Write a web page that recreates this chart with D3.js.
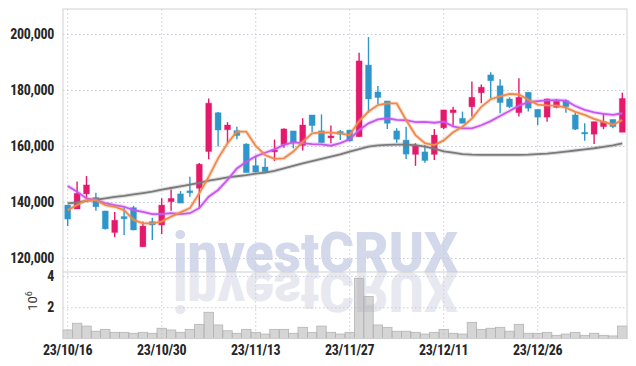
<!DOCTYPE html>
<html>
<head>
<meta charset="utf-8">
<script src="https://cdn.jsdelivr.net/npm/d3@7"></script>
<style>
    body { margin: 0; background: #fff; }
    .tick text { font-family: "Liberation Sans Narrow", "Roboto Condensed", Roboto, sans-serif; font-weight: bold; fill: #262626; letter-spacing: -0.3px; }
    .grid line { stroke: #c6cbe0; stroke-dasharray: 1.5,2.5; }
    .grid path { display: none; }
    .wm { font-family: Roboto, Inter, sans-serif; font-weight: 900; font-size: 55px; }
</style>
</head>
<body>
<div id="chart"></div>
<script>
var dates = ["23/10/16","23/10/17","23/10/18","23/10/19","23/10/20","23/10/23","23/10/24","23/10/25","23/10/26","23/10/27",
    "23/10/30","23/10/31","23/11/01","23/11/02","23/11/03","23/11/06","23/11/07","23/11/08","23/11/09","23/11/10",
    "23/11/13","23/11/14","23/11/15","23/11/16","23/11/17","23/11/20","23/11/21","23/11/22","23/11/23","23/11/24",
    "23/11/27","23/11/28","23/11/29","23/11/30","23/12/01","23/12/04","23/12/05","23/12/06","23/12/07","23/12/08",
    "23/12/11","23/12/12","23/12/13","23/12/14","23/12/15","23/12/18","23/12/19","23/12/20","23/12/21","23/12/22",
    "23/12/26","23/12/27","23/12/28","24/01/02","24/01/03","24/01/04","24/01/05","24/01/08","24/01/09","24/01/10"];

var open = [138900,137500,142900,141600,136800,129100,134800,138000,124000,133000,
    131800,140100,142900,144000,144900,158000,171900,165800,165500,160700,
    153000,152500,157900,160500,165400,160200,171100,165400,162900,165200,
    165700,163300,188900,179300,176100,165400,162100,157000,157900,157000,
    166500,171900,169900,174000,179000,185400,181500,176800,171900,179200,
    173100,170300,173800,176200,171100,164900,164200,166900,169500,164900];
var high = [139000,147300,149300,143300,136900,136400,138000,138600,133000,134400,
    141300,144500,143900,149000,153900,177000,172100,168500,166900,161000,
    156100,155600,162300,166300,165400,169900,171100,171300,167300,165700,
    165700,193300,198900,181400,176100,166300,166900,161000,160400,166100,
    172900,174000,172300,183000,182000,186300,183800,177400,184200,179200,
    173100,177000,176800,176600,171900,168100,168700,171700,169500,179000];
var low = [131400,137500,141400,136900,130200,127400,128200,129900,124000,126400,
    128600,136900,139600,141900,137700,155300,159800,161000,162400,150500,
    150500,150800,154600,159400,159200,158400,165000,161200,161000,162100,
    161600,163300,171800,175000,166100,161200,155400,152900,154000,155000,
    166100,167300,168100,170500,175300,177000,171700,173600,170500,172300,
    167500,168700,173500,171900,165700,161900,160700,166000,166300,164900];
var close = [133900,143100,146100,138300,130400,133500,134000,130000,131400,131800,
    138900,141300,139600,143300,153500,175300,165700,167500,163700,150500,
    150700,150800,158600,166100,161300,167500,167300,161200,163600,164200,
    161800,190400,176800,177300,168100,162400,157100,160000,154800,163900,
    172900,172900,168100,177400,181000,183300,175500,174000,177400,173500,
    170300,176800,176000,174000,166000,164300,168700,168700,166900,177000];
var volume = [0.55,0.98,0.80,0.47,0.59,0.40,0.40,0.34,0.40,0.34,
    0.66,0.55,0.40,0.59,0.91,1.68,0.87,0.50,0.34,0.59,
    0.40,0.29,0.59,0.59,0.34,0.72,0.40,0.80,0.40,0.29,
    0.40,3.85,2.68,0.87,0.72,0.47,0.47,0.40,0.29,0.40,
    0.59,0.34,0.29,1.04,0.59,0.66,0.72,0.47,0.91,0.34,
    0.34,0.40,0.21,0.29,0.40,0.21,0.34,0.21,0.17,0.80];
// moving averages, thousands of won
var maShort = [137.1,138.9,140.7,140.7,138.9,138.3,137.1,133.6,132.4,132.4,
    133.0,134.8,136.3,137.8,143.1,149.0,155.6,161.0,165.1,165.1,
    160.0,156.8,155.4,155.6,158.0,161.5,164.5,164.9,164.8,164.5,
    163.9,168.9,172.3,174.6,175.2,175.2,169.3,163.9,161.0,160.3,
    162.0,164.9,166.9,169.8,174.0,176.7,177.7,178.6,178.4,176.5,
    174.8,174.5,174.4,173.7,172.2,171.1,169.7,168.6,167.6,169.3];
var maMid = [145.7,143.7,141.3,140.7,139.6,138.9,138.3,137.1,136.5,135.7,
    135.7,136.0,135.7,136.0,137.8,141.9,144.3,147.9,152.0,154.4,
    156.3,157.6,158.8,160.4,161.3,161.0,160.7,160.6,160.1,161.0,
    162.4,165.7,168.1,169.5,169.9,169.3,169.2,168.5,168.6,168.3,
    168.7,167.0,166.3,166.3,167.4,168.9,170.7,172.5,174.4,175.7,
    176.0,176.3,176.4,176.2,174.3,172.9,172.0,171.5,171.1,171.7];
var maLong = [139.5,139.9,140.4,140.8,141.3,141.8,142.2,142.7,143.2,143.7,
    144.4,145.0,145.6,146.2,146.8,147.6,148.2,148.8,149.2,149.6,
    150.1,150.5,151.1,152.0,152.9,153.8,154.6,155.4,156.2,157.0,
    158.0,158.9,159.8,160.2,160.4,160.5,160.5,160.3,159.8,159.1,
    158.1,157.6,157.1,156.9,156.8,156.8,156.8,156.8,156.8,156.9,
    157.1,157.3,157.6,158.0,158.4,158.8,159.2,159.7,160.2,160.9];
var priceTicks = [120000,140000,160000,180000,200000];
var volumeTicks = [2,4];
var dateTicks = ["23/10/16","23/10/30","23/11/13","23/11/27","23/12/11","23/12/26"];

var W = 636, H = 366;
var padL = 63, padR = 627, padT = 9, split = 272, padB = 338.6;

var svg = d3.select("#chart").append("svg")
    .attr("width", W)
    .attr("height", H);

var x = d3.scaleBand().domain(dates).range([padL, padR]);
var y = d3.scaleLinear().domain([115000, 208930]).range([split, padT]);
var yv = d3.scaleLinear().domain([0, 4.25]).range([padB, split]);
var bw = x.bandwidth();
var cx = function (i) { return x(dates[i]) + bw / 2; };

// watermark and its reflection, stretched to the reference width
var wmX = 173, wmW = 285;
var wmTop = svg.append("text")
    .attr("class", "wm")
    .style("fill", "#d3d8ea")
    .text("investCRUX");
var natural = wmTop.node().getComputedTextLength();
var sx = wmW / natural;
wmTop.attr("transform", "translate(" + wmX + "," + split + ") scale(" + sx + ",1)");
svg.append("text")
    .attr("class", "wm")
    .attr("transform", "translate(" + wmX + "," + split + ") scale(" + sx + ",-1)")
    .style("fill", "#e8e8f0")
    .text("investCRUX");

// grids
svg.append("g")
    .attr("class", "grid")
    .attr("transform", "translate(" + padL + ",0)")
    .call(d3.axisLeft(y).tickValues(priceTicks).tickSize(-(padR - padL)).tickFormat(""));
svg.append("g")
    .attr("class", "grid")
    .attr("transform", "translate(" + padL + ",0)")
    .call(d3.axisLeft(yv).tickValues(volumeTicks).tickSize(-(padR - padL)).tickFormat(""));
svg.append("g")
    .attr("class", "grid")
    .attr("transform", "translate(0," + padB + ")")
    .call(d3.axisBottom(x).tickValues(dateTicks).tickSize(-(padB - padT)).tickFormat(""));

// volume bars
svg.selectAll("rect.vol")
    .data(volume)
    .enter().append("rect")
    .attr("class", "vol")
    .attr("x", function (d, i) { return x(dates[i]); })
    .attr("y", function (d) { return yv(d); })
    .attr("width", bw)
    .attr("height", function (d) { return padB - yv(d); })
    .attr("fill", "rgba(168,168,168,0.48)")
    .attr("stroke", "#b4b4b4")
    .attr("stroke-width", 0.8);

// frame
svg.append("rect")
    .attr("x", padL).attr("y", padT)
    .attr("width", padR - padL).attr("height", padB - padT)
    .attr("fill", "none").attr("stroke", "#d2d2d2");
svg.append("line")
    .attr("x1", padL).attr("x2", padR)
    .attr("y1", split).attr("y2", split)
    .attr("stroke", "#cfcfcf");

// candles
var up = "#e5196c", down = "#2f96c9";
var candles = svg.selectAll("g.candle")
    .data(dates)
    .enter().append("g")
    .attr("class", "candle");
candles.append("line")
    .attr("x1", function (d, i) { return cx(i); })
    .attr("x2", function (d, i) { return cx(i); })
    .attr("y1", function (d, i) { return y(high[i]); })
    .attr("y2", function (d, i) { return y(low[i]); })
    .attr("stroke", function (d, i) { return close[i] >= open[i] ? up : down; })
    .attr("stroke-width", 1.4);
candles.append("rect")
    .attr("x", function (d, i) { return cx(i) - 3; })
    .attr("y", function (d, i) { return y(Math.max(open[i], close[i])); })
    .attr("width", 6)
    .attr("height", function (d, i) { return Math.max(1.5, Math.abs(y(open[i]) - y(close[i]))); })
    .attr("fill", function (d, i) { return close[i] >= open[i] ? up : down; })
    .attr("stroke", function (d, i) { return close[i] >= open[i] ? up : down; })
    .attr("stroke-opacity", 0.3)
    .attr("stroke-width", 1);

// moving averages
var line = d3.line()
    .x(function (d, i) { return cx(i); })
    .y(function (d) { return y(d * 1000); });
[[maLong, "#7a7a7a"], [maMid, "#c957ef"], [maShort, "#ef8a4c"]].forEach(function (m) {
    svg.append("path").datum(m[0])
        .attr("d", line).attr("fill", "none")
        .attr("stroke", m[1]).attr("stroke-opacity", 0.25).attr("stroke-width", 4);
    svg.append("path").datum(m[0])
        .attr("d", line).attr("fill", "none")
        .attr("stroke", m[1]).attr("stroke-width", 1.8);
});

// axes
var yAxis = svg.append("g")
    .attr("transform", "translate(" + (padL - 6) + ",0)")
    .call(d3.axisLeft(y).tickValues(priceTicks).tickSize(0).tickFormat(d3.format(",")));
yAxis.select(".domain").remove();
yAxis.selectAll("text").style("font-size", "14px");

var vAxis = svg.append("g")
    .attr("transform", "translate(" + (padL - 6) + ",0)")
    .call(d3.axisLeft(yv).tickValues(volumeTicks).tickSize(0).tickFormat(d3.format("d")));
vAxis.select(".domain").remove();
vAxis.selectAll("text").style("font-size", "14px");

var xAxis = svg.append("g")
    .attr("transform", "translate(0," + (padB + 3) + ")")
    .call(d3.axisBottom(x).tickValues(dateTicks).tickSize(0));
xAxis.select(".domain").remove();
xAxis.selectAll("text").style("font-size", "14px");

svg.append("text")
    .attr("transform", "translate(37,301) rotate(-90)")
    .attr("text-anchor", "middle")
    .style("font-family", "'Liberation Sans Narrow', Roboto, sans-serif")
    .style("font-size", "13px")
    .style("fill", "#333")
    .text("10")
    .append("tspan")
    .attr("dy", -5)
    .style("font-size", "9px")
    .text("6");
</script>
</body>
</html>
